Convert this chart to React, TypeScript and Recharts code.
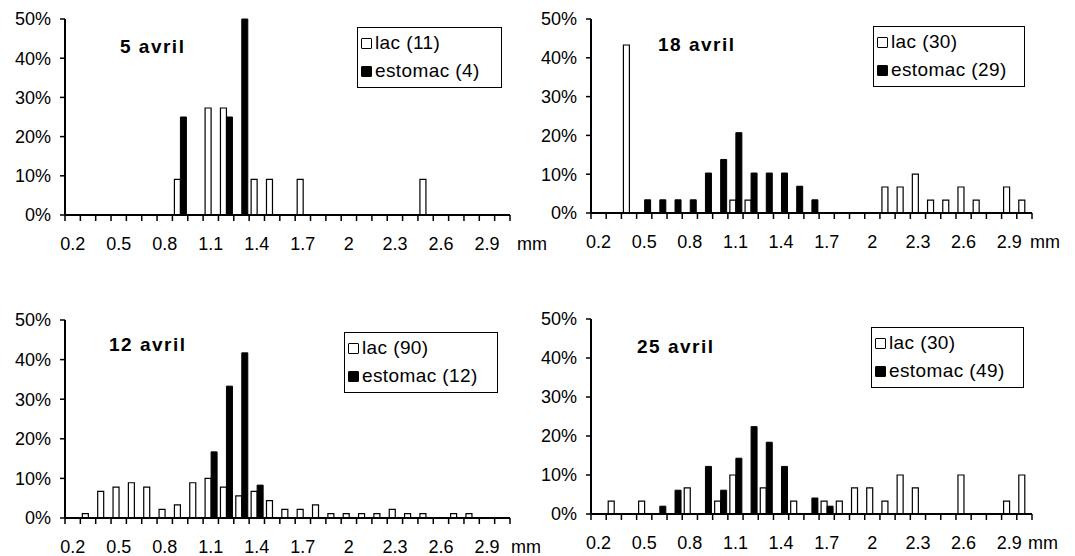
import { Bar, BarChart, Legend, XAxis, YAxis } from "recharts"

const FONT = '"Liberation Sans", Arial, Helvetica, sans-serif'

// size classes (mm)
const sizes = [
  0.2, 0.3, 0.4, 0.5, 0.6, 0.7, 0.8, 0.9, 1.0, 1.1, 1.2, 1.3, 1.4, 1.5, 1.6,
  1.7, 1.8, 1.9, 2.0, 2.1, 2.2, 2.3, 2.4, 2.5, 2.6, 2.7, 2.8, 2.9, 3.0,
]
const sizeLabels = ["0.2", "0.5", "0.8", "1.1", "1.4", "1.7", "2", "2.3", "2.6", "2.9"]
const percentTicks = [0, 10, 20, 30, 40, 50]
const seriesOrder = ["lac", "estomac"]

// % per size class
//                  0.2 .3 .4 .5 .6 .7 .8  .9  1.0  1.1   1.2   1.3 1.4  1.5  1.6 1.7 1.8 1.9 2.0 2.1 2.2 2.3 2.4 2.5 2.6 2.7 2.8 2.9 3.0
const lac5 =      [0, 0, 0, 0, 0, 0, 0, 9.1, 0, 27.3, 27.3, 0, 9.1, 9.1, 0, 9.1, 0, 0, 0, 0, 0, 0, 0, 9.1, 0, 0, 0, 0, 0]
const estomac5 =  [0, 0, 0, 0, 0, 0, 0, 25, 0, 0, 25, 50, 0, 0, 0, 0, 0, 0, 0, 0, 0, 0, 0, 0, 0, 0, 0, 0, 0]

const lac18 =     [0, 0, 43.3, 0, 0, 0, 0, 0, 0, 3.3, 3.3, 0, 0, 0, 0, 0, 0, 0, 0, 6.7, 6.7, 10, 3.3, 3.3, 6.7, 3.3, 0, 6.7, 3.3]
const estomac18 = [0, 0, 0, 3.4, 3.4, 3.4, 3.4, 10.3, 13.8, 20.7, 10.3, 10.3, 10.3, 6.9, 3.4, 0, 0, 0, 0, 0, 0, 0, 0, 0, 0, 0, 0, 0, 0]

const lac12 =     [0, 1.1, 6.7, 7.8, 8.9, 7.8, 2.2, 3.3, 8.9, 10, 7.8, 5.6, 6.7, 4.4, 2.2, 2.2, 3.3, 1.1, 1.1, 1.1, 1.1, 2.2, 1.1, 1.1, 0, 1.1, 1.1, 0, 0]
const estomac12 = [0, 0, 0, 0, 0, 0, 0, 0, 0, 16.7, 33.3, 41.7, 8.3, 0, 0, 0, 0, 0, 0, 0, 0, 0, 0, 0, 0, 0, 0, 0, 0]

const lac25 =     [0, 3.3, 0, 3.3, 0, 0, 6.7, 0, 3.3, 10, 0, 6.7, 0, 3.3, 0, 3.3, 3.3, 6.7, 6.7, 3.3, 10, 6.7, 0, 0, 10, 0, 0, 3.3, 10]
const estomac25 = [0, 0, 0, 0, 2.0, 6.1, 0, 12.2, 6.1, 14.3, 22.4, 18.4, 12.2, 0, 4.1, 2.0, 0, 0, 0, 0, 0, 0, 0, 0, 0, 0, 0, 0, 0]

const markerFill: Record<string, string> = { lac: "#fff", estomac: "#000" }

function LegendBox({ payload }: any) {
  const items = [...(payload || [])].sort(
    (a: any, b: any) => seriesOrder.indexOf(a.dataKey) - seriesOrder.indexOf(b.dataKey)
  )
  return (
    <div
      style={{
        border: "1px solid #000",
        background: "#fff",
        padding: "1px 3px 2px 3px",
        fontSize: 19,
        letterSpacing: 0.4,
        lineHeight: "28px",
        color: "#000",
        fontFamily: FONT,
        textAlign: "left",
      }}
    >
      {items.map((item: any) => (
        <div key={item.dataKey} style={{ display: "flex", alignItems: "center", whiteSpace: "nowrap" }}>
          <span
            style={{
              display: "inline-block",
              width: 9,
              height: 9,
              border: "1.5px solid #000",
              borderRadius: 1,
              background: markerFill[item.dataKey],
              marginRight: 3,
            }}
          />
          <span>{item.value}</span>
        </div>
      ))}
    </div>
  )
}

function SizeTick(props: any) {
  const { x, y, payload, index, half, mmGap } = props
  const label = String(payload.value)
  const last = index === sizes.length - 1
  return (
    <g>
      <line x1={x - half} y1={y} x2={x - half} y2={y + 6} stroke="#000" strokeWidth={1.5} />
      {last && <line x1={x + half} y1={y} x2={x + half} y2={y + 6} stroke="#000" strokeWidth={1.5} />}
      {sizeLabels.includes(label) && (
        <text x={x} y={y + 35} textAnchor="middle" fontSize={18} fill="#000" fontFamily={FONT}>
          {label}
        </text>
      )}
      {last && (
        <text x={x + half + mmGap} y={y + 35} textAnchor="start" fontSize={18} fill="#000" fontFamily={FONT}>
          mm
        </text>
      )}
    </g>
  )
}

interface PanelProps {
  title: string
  lac: number[]
  estomac: number[]
  lacName: string
  estomacName: string
  left: number
  top: number
  width: number
  height: number
  plotTop: number
  plotRight: number
  yWidth: number
  xHeight: number
  mmGap: number
  legendPos: { left: number; top: number; width: number }
  titlePos: { left: number; top: number }
}

function Panel(p: PanelProps) {
  const data = sizes.map((s, i) => ({ size: s, lac: p.lac[i], estomac: p.estomac[i] }))
  const half = (p.width - p.yWidth - p.plotRight) / sizes.length / 2
  return (
    <div style={{ position: "absolute", left: p.left, top: p.top, width: p.width, height: p.height }}>
      <BarChart
        width={p.width}
        height={p.height}
        data={data}
        margin={{ top: p.plotTop, right: p.plotRight, left: 0, bottom: 0 }}
        barGap={0}
        barSize={6}
      >
        <XAxis
          dataKey="size"
          interval={0}
          height={p.xHeight}
          tickSize={0}
          tickMargin={0}
          tickLine={false}
          axisLine={{ stroke: "#000", strokeWidth: 2 }}
          tick={(t: any) => <SizeTick {...t} half={half} mmGap={p.mmGap} />}
        />
        <XAxis
          xAxisId="top"
          dataKey="size"
          orientation="top"
          height={0}
          tick={false}
          tickLine={false}
          axisLine={{ stroke: "#000", strokeWidth: 1 }}
        />
        <YAxis
          domain={[0, 50]}
          ticks={percentTicks}
          width={p.yWidth}
          tickSize={5}
          tickMargin={9}
          interval={0}
          tickFormatter={(v: number) => `${v}%`}
          tick={{ fontSize: 18, fill: "#000", fontFamily: FONT }}
          tickLine={{ stroke: "#000", strokeWidth: 1.5 }}
          axisLine={{ stroke: "#000", strokeWidth: 2 }}
        />
        <YAxis
          yAxisId="right"
          orientation="right"
          domain={[0, 50]}
          width={0}
          tick={false}
          tickLine={false}
          axisLine={{ stroke: "#000", strokeWidth: 1 }}
        />
        <Legend
          layout="horizontal"
          align="center"
          verticalAlign="middle"
          content={<LegendBox />}
          wrapperStyle={{ left: p.legendPos.left, top: p.legendPos.top, width: p.legendPos.width }}
        />
        <Bar dataKey="lac" name={p.lacName} fill="#fff" stroke="#000" strokeWidth={1.2} isAnimationActive={false} />
        <Bar dataKey="estomac" name={p.estomacName} fill="#000" stroke="#000" strokeWidth={1} isAnimationActive={false} />
      </BarChart>
      <div
        style={{
          position: "absolute",
          left: p.titlePos.left,
          top: p.titlePos.top,
          fontFamily: FONT,
          fontWeight: "bold",
          fontSize: 19,
          letterSpacing: 1.5,
          lineHeight: "22px",
          whiteSpace: "nowrap",
        }}
      >
        {p.title}
      </div>
    </div>
  )
}

export default function App() {
  return (
    <div style={{ position: "absolute", left: 0, top: 0, width: 1075, height: 556, background: "#fff", fontFamily: FONT }}>
      <Panel
        title="5 avril"
        lac={lac5}
        estomac={estomac5}
        lacName="lac (11)"
        estomacName="estomac (4)"
        left={0}
        top={0}
        width={565}
        height={275}
        plotTop={19}
        plotRight={55}
        yWidth={65}
        xHeight={60}
        mmGap={7}
        legendPos={{ left: 357, top: 27, width: 145 }}
        titlePos={{ left: 120, top: 36 }}
      />
      <Panel
        title="18 avril"
        lac={lac18}
        estomac={estomac18}
        lacName="lac (30)"
        estomacName="estomac (29)"
        left={530}
        top={0}
        width={545}
        height={275}
        plotTop={19}
        plotRight={43}
        yWidth={61}
        xHeight={62}
        mmGap={-2}
        legendPos={{ left: 343, top: 26, width: 152 }}
        titlePos={{ left: 128, top: 34 }}
      />
      <Panel
        title="12 avril"
        lac={lac12}
        estomac={estomac12}
        lacName="lac (90)"
        estomacName="estomac (12)"
        left={0}
        top={280}
        width={565}
        height={276}
        plotTop={40}
        plotRight={55}
        yWidth={65}
        xHeight={38}
        mmGap={1}
        legendPos={{ left: 344, top: 52, width: 154 }}
        titlePos={{ left: 109, top: 54 }}
      />
      <Panel
        title="25 avril"
        lac={lac25}
        estomac={estomac25}
        lacName="lac (30)"
        estomacName="estomac (49)"
        left={530}
        top={280}
        width={545}
        height={276}
        plotTop={39}
        plotRight={43}
        yWidth={61}
        xHeight={42}
        mmGap={-4}
        legendPos={{ left: 341, top: 47, width: 153 }}
        titlePos={{ left: 107, top: 56 }}
      />
    </div>
  )
}
